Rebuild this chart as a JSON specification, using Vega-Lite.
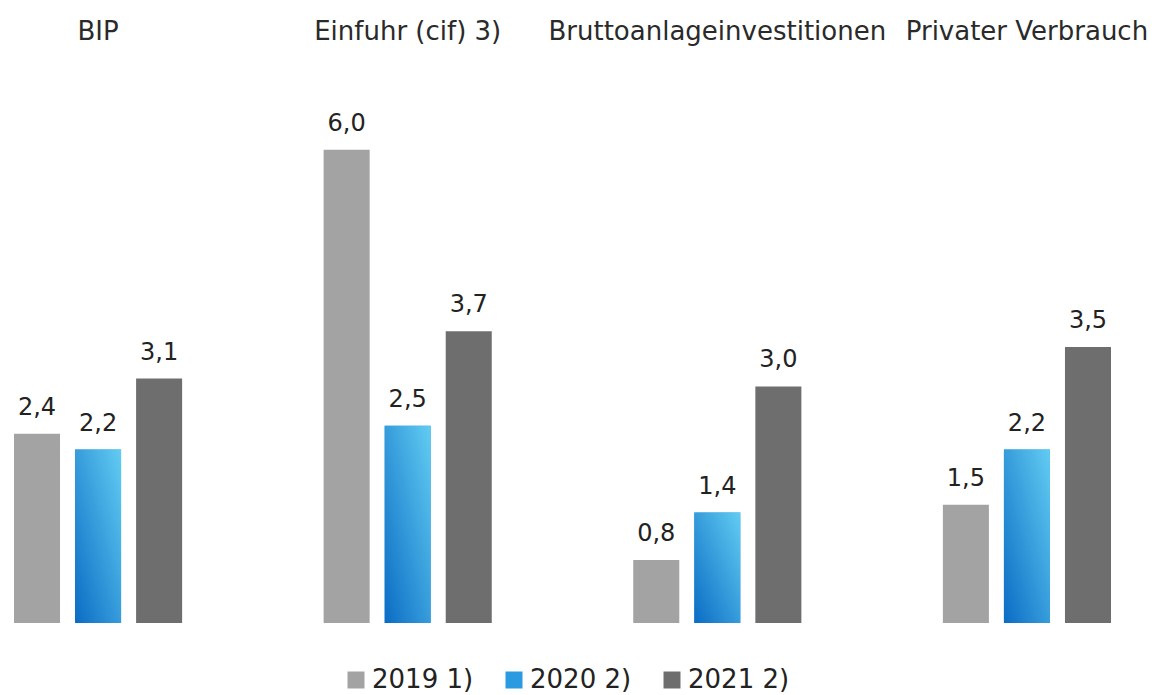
{
  "$schema": "https://vega.github.io/schema/vega-lite/v6.json",
  "width": 1097,
  "height": 552,
  "autosize": {"type": "none"},
  "padding": {"left": 14, "top": 71, "right": 50, "bottom": 72},
  "background": "white",
  "config": {
    "view": {"stroke": null},
    "font": "DejaVu Sans",
    "locale": {"number": {"decimal": ",", "thousands": ".", "grouping": [3], "currency": ["", " €"]}}
  },
  "data": {
    "values": [
      {"cat": "BIP", "year": "2019 1)", "value": 2.4},
      {"cat": "BIP", "year": "2020 2)", "value": 2.2},
      {"cat": "BIP", "year": "2021 2)", "value": 3.1},
      {"cat": "Einfuhr (cif) 3)", "year": "2019 1)", "value": 6.0},
      {"cat": "Einfuhr (cif) 3)", "year": "2020 2)", "value": 2.5},
      {"cat": "Einfuhr (cif) 3)", "year": "2021 2)", "value": 3.7},
      {"cat": "Bruttoanlageinvestitionen", "year": "2019 1)", "value": 0.8},
      {"cat": "Bruttoanlageinvestitionen", "year": "2020 2)", "value": 1.4},
      {"cat": "Bruttoanlageinvestitionen", "year": "2021 2)", "value": 3.0},
      {"cat": "Privater Verbrauch", "year": "2019 1)", "value": 1.5},
      {"cat": "Privater Verbrauch", "year": "2020 2)", "value": 2.2},
      {"cat": "Privater Verbrauch", "year": "2021 2)", "value": 3.5}
    ]
  },
  "encoding": {
    "x": {
      "field": "cat", "type": "nominal", "sort": null,
      "scale": {"paddingInner": 0.457, "paddingOuter": 0},
      "axis": {"orient": "top", "title": null, "domain": false, "ticks": false, "labelAngle": 0,
               "labelPadding": 27, "labelFontSize": 26, "labelColor": "#2a2a2a", "labelFont": "DejaVu Sans", "labelLimit": 500, "labelOverlap": false}
    },
    "xOffset": {"field": "year", "type": "nominal", "scale": {"paddingInner": 0.246, "paddingOuter": 0}},
    "y": {"field": "value", "type": "quantitative", "scale": {"domain": [0, 7], "nice": false}, "axis": null}
  },
  "layer": [
    {
      "mark": {"type": "bar"},
      "encoding": {
        "color": {
          "field": "year", "type": "nominal",
          "scale": {"domain": ["2019 1)", "2020 2)", "2021 2)"], "range": ["#a3a3a3", "#2a9be0", "#6e6e6e"]},
          "legend": {
            "title": null, "orient": "none", "direction": "horizontal",
            "legendX": 329, "legendY": 596,
            "symbolType": "square", "symbolSize": 289, "symbolStrokeWidth": 0,
            "labelFontSize": 26, "labelColor": "#222222", "labelFont": "DejaVu Sans",
            "columnPadding": 27, "labelOffset": 3
          }
        }
      }
    },
    {
      "transform": [{"filter": "datum.year === '2020 2)'"}],
      "mark": {
        "type": "bar",
        "color": {
          "gradient": "linear", "x1": 1, "y1": 0, "x2": 0, "y2": 1,
          "stops": [{"offset": 0, "color": "#62ccf2"}, {"offset": 1, "color": "#0a6cc4"}]
        }
      }
    },
    {
      "mark": {"type": "text", "baseline": "bottom", "dy": -14, "fontSize": 24, "color": "#222222"},
      "encoding": {"text": {"field": "value", "type": "quantitative", "format": ".1f"}}
    }
  ]
}
